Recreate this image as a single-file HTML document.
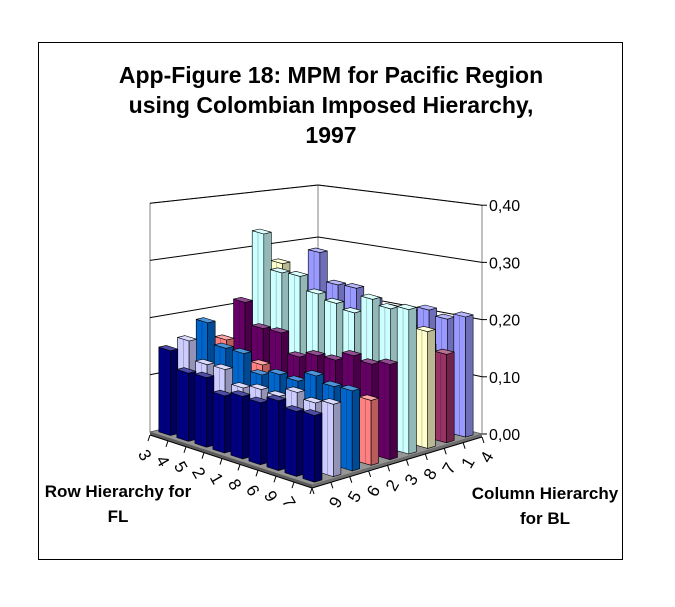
<!DOCTYPE html>
<html><head><meta charset="utf-8"><style>
html,body{margin:0;padding:0;background:#fff;}
svg{display:block;font-family:"Liberation Sans",Arial,sans-serif;}
</style></head><body>
<svg id="chart" width="675" height="607" viewBox="0 0 675 607">
<rect x="38.5" y="42.5" width="584" height="517" fill="#fff" stroke="#000" stroke-width="1"/>
<g font-weight="bold" font-size="23" text-anchor="middle" fill="#000">
<text x="331" y="83">App-Figure 18: MPM for Pacific Region</text>
<text x="331" y="113">using Colombian Imposed Hierarchy,</text>
<text x="331" y="143">1997</text>
</g>
<g font-weight="bold" font-size="17" text-anchor="middle">
<text x="118" y="497">Row Hierarchy for</text>
<text x="118" y="522">FL</text>
</g>
<g font-weight="bold" font-size="17" text-anchor="middle">
<text x="545" y="499">Column Hierarchy</text>
<text x="545" y="524">for BL</text>
</g>
<g id="plot"></g>
</svg>
<script>
// categories (row hierarchy, back-left to front)
const categories = ["3","4","5","2","1","8","6","9","7"];
// series (column hierarchy, front to back)
const seriesNames = ["9","5","6","2","3","8","7","1","4"];
const seriesColors = ["#000080","#CCCCFF","#0066CC","#FF8080","#660066","#CCFFFF","#FFFFCC","#993366","#9999FF"];
const s9 = [0.148,0.118,0.119,0.097,0.105,0.103,0.115,0.106,0.108];
const s5 = [0.159,0.126,0.126,0.103,0.109,0.106,0.121,0.112,0.118];
const s6 = [0.185,0.148,0.147,0.118,0.127,0.124,0.141,0.131,0.132];
const s2 = [0.148,0.115,0.120,0.100,0.105,0.105,0.110,0.105,0.108];
const s3 = [0.210,0.170,0.170,0.135,0.145,0.145,0.160,0.153,0.160];
const s8 = [0.330,0.265,0.265,0.240,0.230,0.220,0.250,0.240,0.245];
const s7 = [0.270,0.230,0.210,0.190,0.180,0.180,0.190,0.200,0.200];
const s1 = [0.180,0.160,0.160,0.150,0.150,0.150,0.160,0.160,0.153];
const s4 = [0.280,0.225,0.225,0.210,0.200,0.200,0.210,0.200,0.210];
const seriesValues = [s9,s5,s6,s2,s3,s8,s7,s1,s4];
const zTicks = [0,0.1,0.2,0.3,0.4];
const zTickLabels = ["0,00","0,10","0,20","0,30","0,40"];

const NS="http://www.w3.org/2000/svg";
const plot=document.getElementById('plot');
const L={x:150,y:432},F={x:312,y:485},B={x:318,y:393},R={x:482,y:434};
function P(s,t){return{x:(1-s)*(1-t)*L.x+s*(1-t)*F.x+(1-s)*t*B.x+s*t*R.x,
 y:(1-s)*(1-t)*L.y+s*(1-t)*F.y+(1-s)*t*B.y+s*t*R.y};}
function scaleAt(s,t){return 572+52*(s-t);}
function zpx(v,s,t){return v*scaleAt(s,t);}
function pts(a){return a.map(p=>p.x.toFixed(1)+','+p.y.toFixed(1)).join(' ');}
function poly(points,fill,stroke,sw){const e=document.createElementNS(NS,'polygon');
 e.setAttribute('points',pts(points));e.setAttribute('fill',fill);
 e.setAttribute('stroke',stroke||'none');if(sw)e.setAttribute('stroke-width',sw);
 e.setAttribute('stroke-linejoin','round');return e;}
function line(a,b,c,w){const e=document.createElementNS(NS,'line');
 e.setAttribute('x1',a.x);e.setAttribute('y1',a.y);e.setAttribute('x2',b.x);e.setAttribute('y2',b.y);
 e.setAttribute('stroke',c);e.setAttribute('stroke-width',w);return e;}
function up(p,h){return{x:p.x,y:p.y-h};}
function shade(hex,f){const n=parseInt(hex.slice(1),16);let r=n>>16,g=(n>>8)&255,b=n&255;
 if(f<1){r*=f;g*=f;b*=f;}else{r=r+(255-r)*(f-1);g=g+(255-g)*(f-1);b=b+(255-b)*(f-1);}
 return 'rgb('+Math.round(r)+','+Math.round(g)+','+Math.round(b)+')';}

// walls
const wallTop=0.4;
const lw=poly([L,B,up(B,zpx(wallTop,0,1)),up(L,zpx(wallTop,0,0))],'#fff','#808080',1);
plot.appendChild(lw);
const rw=poly([B,R,up(R,zpx(wallTop,1,1)),up(B,zpx(wallTop,0,1))],'#fff','#808080',1);
plot.appendChild(rw);
zTicks.forEach((v,k)=>{
 if(v>0){const a=up(L,zpx(v,0,0)),b=up(B,zpx(v,0,1)),c=up(R,zpx(v,1,1));
  const g1=line(a,b,'#000',1);plot.appendChild(g1);
  const g2=line(b,c,'#000',1);plot.appendChild(g2);}
 const c=up(R,zpx(v,1,1));
 const tk=line(c,{x:c.x+5,y:c.y},'#000',1);plot.appendChild(tk);
 const t=document.createElementNS(NS,'text');t.setAttribute('x',c.x+7);t.setAttribute('y',c.y+6);
 t.setAttribute('font-size','16');t.textContent=zTickLabels[k];
 
 
 plot.appendChild(t);
});
// floor
const fl=poly([L,F,R,B],'#969696','#606060',0.8);
plot.appendChild(fl);
const fs1=poly([L,F,{x:F.x,y:F.y+3},{x:L.x,y:L.y+3}],'#5a5a5a');plot.appendChild(fs1);
const fs2=poly([F,R,{x:R.x,y:R.y+3},{x:F.x,y:F.y+3}],'#6e6e6e');plot.appendChild(fs2);
const la=line({x:L.x,y:L.y+3},{x:F.x,y:F.y+3},'#000',1);plot.appendChild(la);
const ra=line({x:F.x,y:F.y+3},{x:R.x,y:R.y+3},'#000',1);plot.appendChild(ra);

// axis ticks & labels
const nC=categories.length,nS=seriesNames.length;
for(let i=0;i<=nC;i++){const p=P(i/nC,0);const tk=line({x:p.x,y:p.y+3},{x:p.x-2,y:p.y+9},'#000',1);
 plot.appendChild(tk);}
categories.forEach((c,i)=>{const p=P((i+0.5)/nC,0);const t=document.createElementNS(NS,'text');
 const x=p.x-14,y=p.y+26;t.setAttribute('x',x);t.setAttribute('y',y);t.setAttribute('font-size','17');
 t.setAttribute('text-anchor','middle');t.setAttribute('transform','rotate(60 '+x+' '+(y-6)+')');t.textContent=c;
 
 
 plot.appendChild(t);});
for(let j=0;j<=nS;j++){const p=P(1,j/nS);const tk=line({x:p.x,y:p.y+3},{x:p.x+2,y:p.y+9},'#000',1);
 plot.appendChild(tk);}
seriesNames.forEach((c,j)=>{const p=P(1,(j+0.5)/nS);const t=document.createElementNS(NS,'text');
 const x=p.x+14,y=p.y+26;t.setAttribute('x',x);t.setAttribute('y',y);t.setAttribute('font-size','17');
 t.setAttribute('text-anchor','middle');t.setAttribute('transform','rotate(-60 '+x+' '+(y-6)+')');t.textContent=c;
 
 
 plot.appendChild(t);});

// bars
const ws=0.32,wt=0.2;
const order=[];
for(let j=0;j<nS;j++)for(let i=0;i<nC;i++)order.push([i,j]);
order.sort((a,b)=>((a[0]-a[1])-(b[0]-b[1]))||(a[0]-b[0]));
order.forEach(([i,j])=>{
 const v=seriesValues[j][i];
 const s0=(i+0.5-ws)/nC,s1=(i+0.5+ws)/nC,t0=(j+0.5-wt)/nS,t1=(j+0.5+wt)/nS;
 const h=zpx(v,(i+0.5)/nC,(j+0.5)/nS);
 const A=P(s0,t0),Bc=P(s1,t0),C=P(s1,t1),D=P(s0,t1);
 const col=seriesColors[j];
 const g=document.createElementNS(NS,'g');
 
 
 g.appendChild(poly([A,Bc,up(Bc,h),up(A,h)],col,'#000',0.6));
 g.appendChild(poly([Bc,C,up(C,h),up(Bc,h)],shade(col,0.72),'#000',0.6));
 g.appendChild(poly([up(A,h),up(Bc,h),up(C,h),up(D,h)],shade(col,1.3),'#000',0.6));
 const mid=P((s0+s1)/2,t0);
 g.appendChild(line(mid,up(mid,h),shade(col,0.6),0.5));
 plot.appendChild(g);
});
</script>
</body></html>
